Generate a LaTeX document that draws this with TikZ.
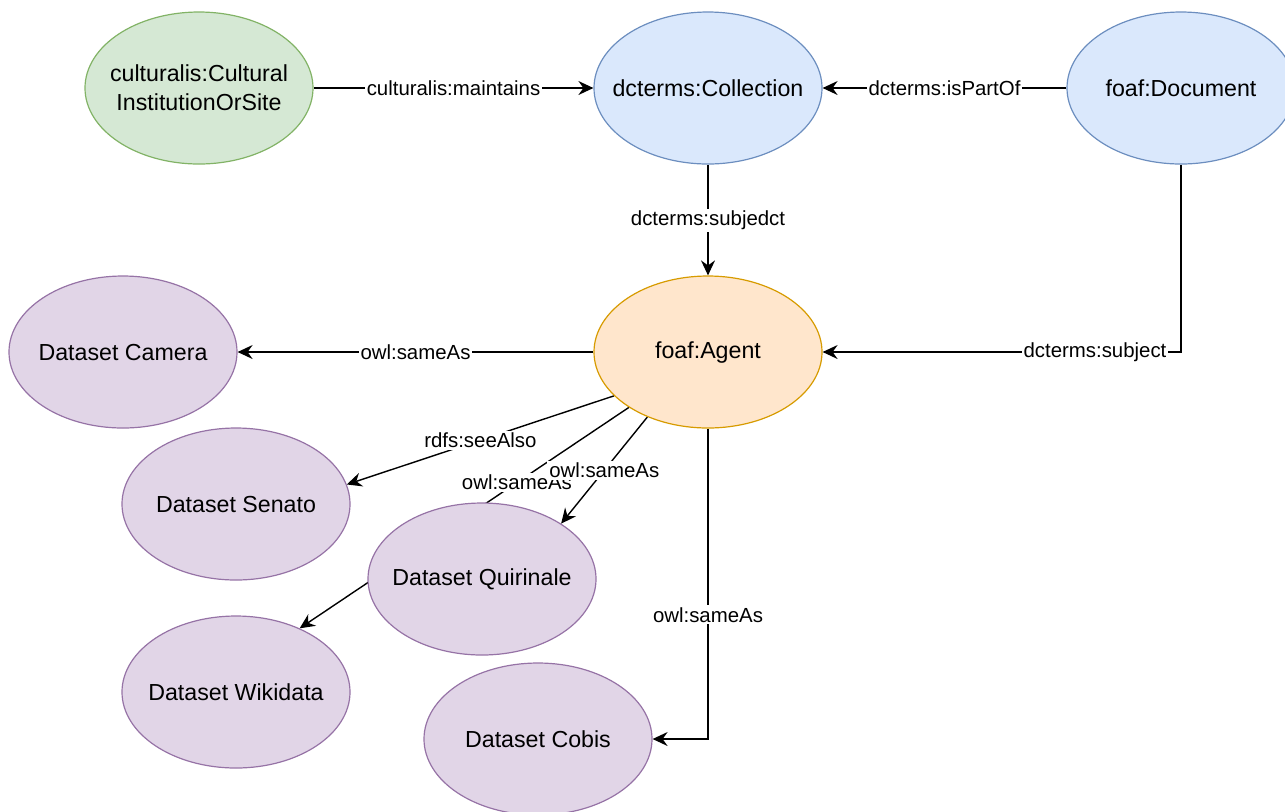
\documentclass[tikz,border=0pt]{standalone}
\usepackage{fontspec}
\setmainfont{Liberation Sans}
\usepackage{tikz}
\usetikzlibrary{arrows.meta,shapes.geometric,backgrounds}

\definecolor{instfill}{HTML}{D5E8D4}
\definecolor{instline}{HTML}{82B366}
\definecolor{blufill}{HTML}{DAE8FC}
\definecolor{bluline}{HTML}{6C8EBF}
\definecolor{agtfill}{HTML}{FFE6CC}
\definecolor{agtline}{HTML}{D79B00}
\definecolor{setfill}{HTML}{E1D5E7}
\definecolor{setline}{HTML}{9673A6}

\begin{document}
\begin{tikzpicture}[x=0.5pt,y=-0.5pt,
  every node/.style={font=\fontsize{11.6}{14.5}\selectfont},
  cls/.style={ellipse,draw,line width=0.6pt,minimum width=114pt,minimum height=76pt,
              inner xsep=-10pt,inner ysep=0pt,align=center},
  instc/.style={fill=instfill,draw=instline},
  bluec/.style={fill=blufill,draw=bluline},
  agentc/.style={fill=agtfill,draw=agtline},
  setc/.style={fill=setfill,draw=setline},
  lbl/.style={fill=white,inner sep=1pt,font=\fontsize{10.2}{12}\selectfont},
  rel/.style={-{Stealth[length=7.5pt,width=7pt,inset=2.5pt]},line width=0.7pt}]
\useasboundingbox (0,0) rectangle (1285,811);
\clip (0,0) rectangle (1285,811);

\draw (199,88)   node (inst)      [cls,instc]  {culturalis:Cultural\\InstitutionOrSite};
\draw (708,88)   node (coll)      [cls,bluec]  {dcterms:Collection};
\draw (1181,88)  node (doc)       [cls,bluec]  {foaf:Document};

\draw (708,352)  node (agent)     [cls,agentc] {foaf:Agent};
\draw (123,352)  node (camera)    [cls,setc]   {Dataset Camera};

\draw (236,504)  node (senato)    [cls,setc]   {Dataset Senato};
\draw (482,579)  node (quirinale) [cls,setc]   {Dataset Quirinale};
\draw (236,692)  node (wikidata)  [cls,setc]   {Dataset Wikidata};
\draw (538,739)  node (cobis)     [cls,setc]   {Dataset Cobis};

\begin{scope}[on background layer]
\draw[rel] (inst) -- node[lbl] {culturalis:maintains} (coll);
\draw[rel] (doc) -- node[lbl] {dcterms:isPartOf} (coll);
\draw[rel] (coll) -- node[lbl] {dcterms:subjedct} (agent);
\draw[rel] (doc.south) |- node[lbl,pos=0.62] {dcterms:subject} (agent);

\draw[rel] (agent) -- node[lbl] {owl:sameAs} (camera);
\draw[rel] (agent.205) -- node[lbl] {rdfs:seeAlso} (senato.10);
\draw[rel] (agent.215) -- node[lbl,pos=0.34] {owl:sameAs} (wikidata.45);
\draw[rel] (agent.227) -- node[lbl] {owl:sameAs} (quirinale.35);
\draw[rel] (agent) |- node[lbl,pos=0.3] {owl:sameAs} (cobis);
\end{scope}
\end{tikzpicture}
\end{document}
